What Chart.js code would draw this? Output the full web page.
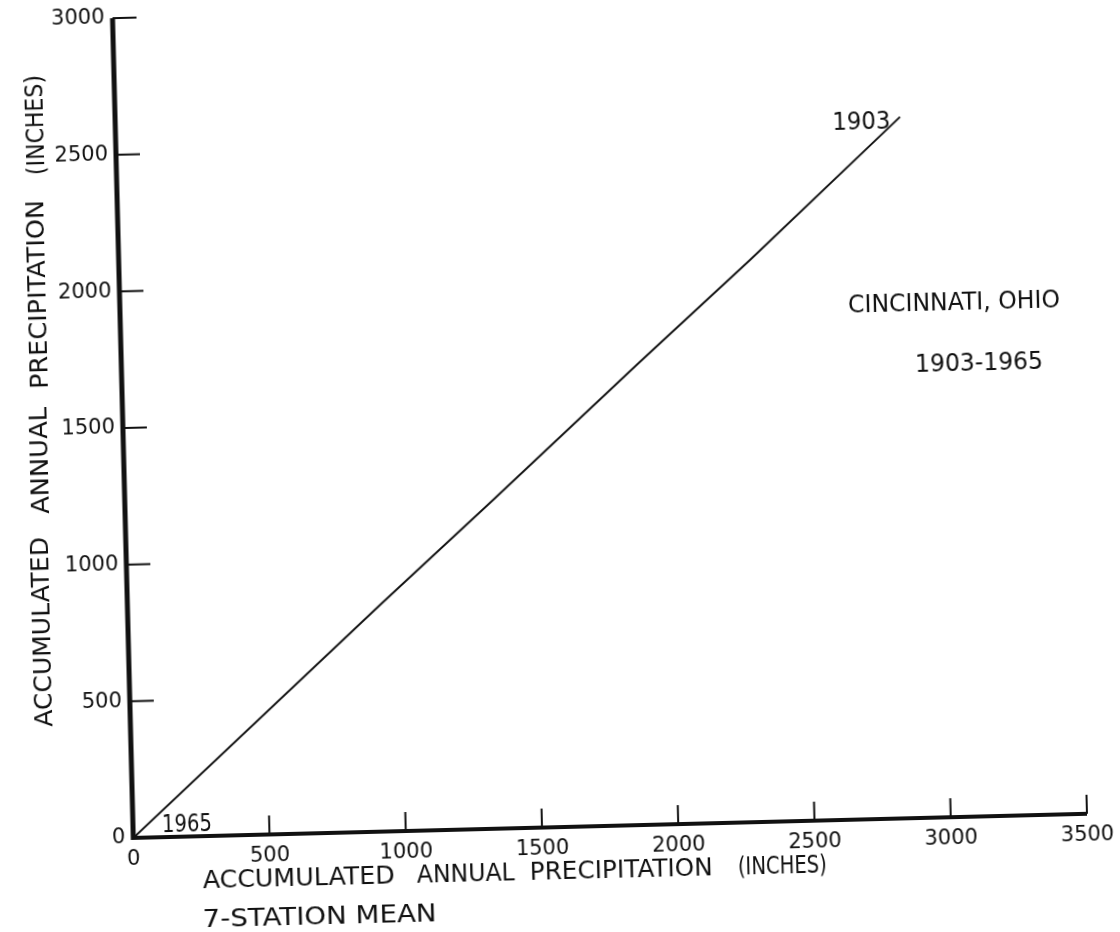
<!DOCTYPE html>
<html><head><meta charset="utf-8">
<script src="https://cdn.jsdelivr.net/npm/chart.js@4/dist/chart.umd.min.js"></script>
<style>
html,body{margin:0;padding:0;background:#fff;overflow:hidden;width:1120px;height:932px;}
#wrap{position:absolute;left:-40px;top:-40px;width:1200px;height:1012px;transform:rotate(-1.45deg);transform-origin:600px 506px;}
canvas{display:block;background:#fff;}
</style></head><body>
<div id="wrap"><canvas id="c" width="1200" height="1012"></canvas></div>
<script>
// Accumulated annual precipitation, 7-station mean (x) vs Cincinnati (y), inches
const stationMean = [0, 926, 1351, 1902, 2316, 2879];
const cincinnati  = [0, 829, 1203, 1694, 2057, 2566];
const xTickValues = [0, 500, 1000, 1500, 2000, 2500, 3000, 3500];
const yTickValues = [0, 500, 1000, 1500, 2000, 2500, 3000];
const endYears = ['1965', '1903'];
const xTitleWords = ['ACCUMULATED', 'ANNUAL', 'PRECIPITATION', '(INCHES)'];
const xTitleLine2 = '7-STATION MEAN';
const yTitleWords = ['ACCUMULATED', 'ANNUAL', 'PRECIPITATION', '(INCHES)'];
const stationName = 'CINCINNATI, OHIO';
const periodLabel = '1903-1965';

const O = 40;
const INK = '#111111';
const FONT = '"DejaVu Sans", sans-serif';

function fitText(ctx, text, left, baseline, width) {
  const m = ctx.measureText(text).width;
  ctx.save();
  ctx.translate(left, baseline);
  ctx.scale(width / m, 1);
  ctx.textAlign = 'left';
  ctx.textBaseline = 'alphabetic';
  ctx.fillText(text, 0, 0);
  ctx.restore();
}
function fitCentered(ctx, text, cx, cy, width, cap) {
  fitText(ctx, text, cx - width / 2, cy + cap / 2, width);
}
function fitVertical(ctx, text, cx, yBottom, yTop, cap) {
  const len = yBottom - yTop;
  const m = ctx.measureText(text).width;
  ctx.save();
  ctx.translate(cx, yBottom);
  ctx.rotate(-Math.PI / 2);
  ctx.scale(len / m, 1);
  ctx.textAlign = 'left';
  ctx.textBaseline = 'alphabetic';
  ctx.fillText(text, 0, cap / 2);
  ctx.restore();
}

const decor = {
  id: 'decor',
  afterDraw(chart) {
    const {ctx, scales: {x, y}} = chart;
    const x0 = x.getPixelForValue(0), y0 = y.getPixelForValue(0);
    const yTop = y.getPixelForValue(yTickValues[yTickValues.length - 1]);
    const xEnd = x.getPixelForValue(xTickValues[xTickValues.length - 1]);
    ctx.save();
    ctx.strokeStyle = INK;
    ctx.lineCap = 'butt';
    // y axis
    ctx.lineWidth = 5;
    ctx.beginPath(); ctx.moveTo(x0, yTop); ctx.lineTo(x0, y0 + 2); ctx.stroke();
    // x axis
    ctx.lineWidth = 4;
    ctx.beginPath(); ctx.moveTo(x0 - 2, y0); ctx.lineTo(xEnd, y0); ctx.stroke();
    // inward tick marks
    ctx.lineWidth = 2;
    y.ticks.forEach(t => {
      if (t.value === 0) return;
      const py = y.getPixelForValue(t.value);
      ctx.beginPath(); ctx.moveTo(x0, py); ctx.lineTo(x0 + 24, py); ctx.stroke();
    });
    x.ticks.forEach(t => {
      if (t.value === 0) return;
      const px = x.getPixelForValue(t.value);
      ctx.beginPath(); ctx.moveTo(px, y0); ctx.lineTo(px, y0 - 19); ctx.stroke();
    });
    // texts
    ctx.fillStyle = INK;
    ctx.font = '25px ' + FONT;
    const cap = 18;
    // bottom title
    const bx = [[192.4, 192], [406.5, 98], [519.5, 183], [727.7, 89]];
    xTitleWords.forEach((w, i) => fitText(ctx, w, bx[i][0] + O, 879 + O, bx[i][1]));
    fitText(ctx, xTitleLine2, 191.3 + O, 918 + O, 234);
    // left title
    const ly = [[37, 713.7, 523.8], [39, 500.8, 393.8], [41, 375.8, 186.9], [43, 161.9, 62]];
    yTitleWords.forEach((w, i) => fitVertical(ctx, w, ly[i][0] + O, ly[i][1] + O, ly[i][2] + O, cap));
    // annotations
    fitCentered(ctx, endYears[1], 870 + O, 128 + O, 58, cap);
    fitCentered(ctx, endYears[0], 178 + O, 812.5 + O, 50, cap);
    fitCentered(ctx, stationName, 958 + O, 311 + O, 212, cap);
    fitCentered(ctx, periodLabel, 981.5 + O, 371.6 + O, 128, cap);
    ctx.restore();
  }
};

const points = stationMean.map((v, i) => ({x: v, y: cincinnati[i]}));
const plain = v => String(v);

new Chart(document.getElementById('c'), {
  type: 'scatter',
  data: {
    datasets: [{
      data: points,
      showLine: true,
      borderColor: INK,
      borderWidth: 2,
      pointRadius: 0,
      tension: 0,
      fill: false
    }]
  },
  options: {
    responsive: false,
    animation: false,
    devicePixelRatio: 1,
    layout: {padding: {top: 7 + O, right: 1200 - (1078 + O), left: 0, bottom: 0}},
    plugins: {legend: {display: false}, tooltip: {enabled: false}},
    scales: {
      x: {
        type: 'linear',
        min: 0, max: 3500,
        afterBuildTicks: s => { s.ticks = xTickValues.map(v => ({value: v})); },
        afterFit: s => { s.height = 1012 - (827 + O); s.paddingLeft = 0; s.paddingRight = 0; },
        grid: {display: false, drawTicks: false},
        border: {display: false},
        ticks: {font: {family: FONT, size: 21}, color: INK, padding: 9, maxRotation: 0, autoSkip: false, callback: plain}
      },
      y: {
        type: 'linear',
        min: 0, max: 3000,
        afterBuildTicks: s => { s.ticks = yTickValues.map(v => ({value: v})); },
        afterFit: s => { s.width = 124 + O; s.paddingTop = 0; s.paddingBottom = 0; },
        grid: {display: false, drawTicks: false},
        border: {display: false},
        ticks: {font: {family: FONT, size: 21}, color: INK, padding: 8, autoSkip: false, callback: plain}
      }
    }
  },
  plugins: [decor]
});
</script>
</body></html>
